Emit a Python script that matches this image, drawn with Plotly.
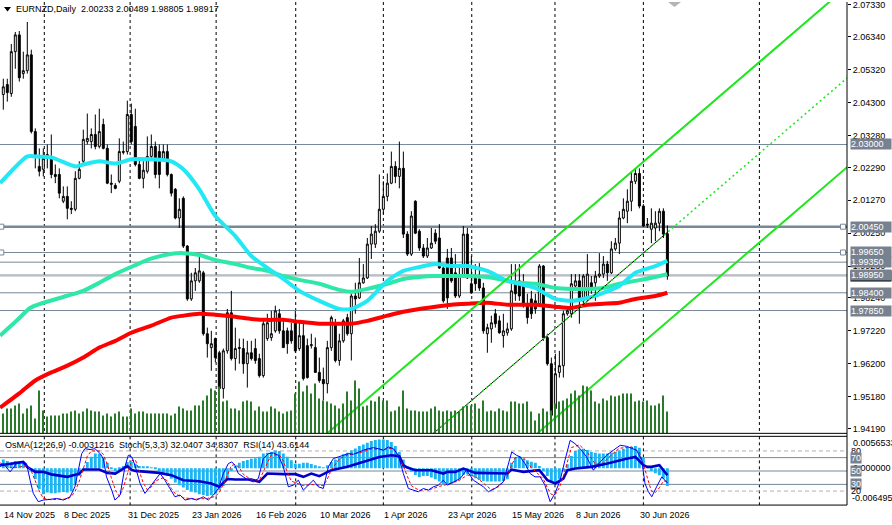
import plotly.graph_objects as go

W, H = 892, 525

# ---------------- data ----------------
opens = [2.0455,2.0486,2.0458,2.0588,2.0640,2.0520,2.0529,2.0578,2.0340,2.0232,
         2.0223,2.0257,2.0257,2.0207,2.0207,2.0124,2.0139,2.0102,2.0099,2.0195,
         2.0248,2.0309,2.0309,2.0331,2.0294,2.0362,2.0288,2.0180,2.0173,2.0186,
         2.0278,2.0278,2.0393,2.0356,2.0238,2.0195,2.0217,2.0263,2.0294,2.0278,
         2.0254,2.0278,2.0207,2.0161,2.0072,2.0133,1.9985,1.9821,1.9877,1.9877,
         1.9902,1.9713,1.9670,1.9698,1.9654,1.9543,1.9660,1.9778,1.9636,1.9670,
         1.9667,1.9620,1.9654,1.9667,1.9636,1.9583,1.9698,1.9701,1.9722,1.9775,
         1.9722,1.9722,1.9722,1.9753,1.9667,1.9707,1.9676,1.9676,1.9670,1.9593,
         1.9571,1.9558,1.9670,1.9747,1.9630,1.9691,1.9763,1.9713,1.9830,1.9824,
         1.9871,1.9886,1.9991,1.9991,2.0031,2.0099,2.0139,2.0180,2.0232,2.0201,
         2.0226,2.0022,1.9960,2.0124,2.0031,1.9979,1.9954,1.9979,2.0025,2.0010,
         1.9917,1.9948,1.9948,1.9902,1.9830,1.9892,2.0022,1.9868,1.9886,1.9883,
         1.9855,1.9713,1.9728,1.9775,1.9753,1.9707,1.9716,1.9728,1.9871,1.9877,
         1.9861,1.9806,1.9821,1.9815,1.9806,1.9923,1.9701,1.9620,1.9481,1.9593,
         1.9614,1.9775,1.9775,1.9861,1.9877,1.9815,1.9824,1.9871,1.9871,1.9892,
         1.9898,1.9929,1.9902,1.9976,1.9994,2.0072,2.0093,2.0124,2.0186,2.0210,
         2.0109,2.0053,2.0037,2.0041,2.0056,2.0093,2.00233]
highs = [2.0504,2.0504,2.0612,2.0649,2.0652,2.0588,2.0680,2.0594,2.0350,2.0288,
         2.0288,2.0300,2.0331,2.0238,2.0226,2.0170,2.0170,2.0124,2.0217,2.0248,
         2.0346,2.0396,2.0350,2.0393,2.0411,2.0380,2.0300,2.0207,2.0180,2.0319,
         2.0309,2.0436,2.0427,2.0411,2.0257,2.0248,2.0325,2.0331,2.0309,2.0300,
         2.0300,2.0300,2.0210,2.0165,2.0133,2.0139,1.9988,1.9902,1.9917,1.9960,
         1.9908,1.9732,1.9722,1.9701,1.9660,1.9667,1.9790,1.9846,1.9732,1.9698,
         1.9698,1.9691,1.9691,1.9698,1.9651,1.9759,1.9775,1.9784,1.9800,1.9790,
         1.9753,1.9732,1.9747,1.9784,1.9747,1.9744,1.9698,1.9713,1.9701,1.9639,
         1.9608,1.9691,1.9769,1.9759,1.9713,1.9759,1.9775,1.9837,1.9871,1.9948,
         1.9929,2.0010,2.0047,2.0053,2.0207,2.0186,2.0210,2.0278,2.0248,2.0309,
         2.0278,2.0031,2.0093,2.0127,2.0037,1.9991,2.0010,2.0041,2.0037,2.0053,
         1.9929,1.9976,1.9979,1.9960,1.9917,2.0047,2.0041,1.9954,1.9929,1.9932,
         1.9871,1.9744,1.9769,1.9790,1.9769,1.9775,1.9747,1.9929,1.9929,1.9929,
         1.9898,1.9837,1.9846,1.9837,1.9929,1.9926,1.9713,1.9639,1.9651,1.9660,
         1.9784,1.9794,1.9898,1.9898,1.9898,1.9898,1.9960,1.9892,1.9908,1.9963,
         1.9954,1.9939,2.0000,2.0010,2.0093,2.0133,2.0161,2.0217,2.0226,2.0226,
         2.0115,2.0072,2.0102,2.0093,2.0102,2.0102,2.00489]
lows = [2.0408,2.0433,2.0448,2.0535,2.0495,2.0504,2.0520,2.0334,2.0226,2.0201,
        2.0201,2.0226,2.0195,2.0180,2.0133,2.0118,2.0068,2.0084,2.0093,2.0192,
        2.0238,2.0300,2.0288,2.0285,2.0288,2.0285,2.0177,2.0149,2.0161,2.0180,
        2.0269,2.0269,2.0300,2.0232,2.0192,2.0164,2.0210,2.0257,2.0195,2.0164,
        2.0248,2.0201,2.0139,2.0068,2.0041,1.9979,1.9815,1.9815,1.9846,1.9871,
        1.9707,1.9639,1.9598,1.9624,1.9528,1.9512,1.9651,1.9630,1.9599,1.9620,
        1.9589,1.9546,1.9630,1.9620,1.9577,1.9577,1.9691,1.9691,1.9716,1.9713,
        1.9670,1.9651,1.9682,1.9654,1.9660,1.9568,1.9574,1.9667,1.9593,1.9561,
        1.9506,1.9528,1.9660,1.9624,1.9614,1.9685,1.9707,1.9630,1.9775,1.9821,
        1.9868,1.9883,1.9945,1.9979,2.0025,2.0084,2.0124,2.0177,2.0180,2.0164,
        2.0010,1.9954,1.9954,2.0022,1.9970,1.9948,1.9948,1.9976,1.9991,1.9914,
        1.9809,1.9790,1.9871,1.9824,1.9824,1.9886,1.9883,1.9837,1.9846,1.9846,
        1.9713,1.9654,1.9685,1.9732,1.9713,1.9670,1.9707,1.9722,1.9815,1.9815,
        1.9794,1.9744,1.9759,1.9775,1.9800,1.9691,1.9614,1.9454,1.9475,1.9577,
        1.9577,1.9769,1.9763,1.9855,1.9744,1.9806,1.9815,1.9837,1.9815,1.9886,
        1.9886,1.9877,1.9898,1.9970,1.9960,2.0068,2.0056,2.0093,2.0177,2.0102,
        2.0044,2.0041,1.9994,2.0000,2.0031,2.0010,1.98805]
closes = [2.0479,2.0461,2.0588,2.0640,2.0507,2.0529,2.0578,2.0340,2.0269,2.0217,
          2.0257,2.0269,2.0207,2.0201,2.0149,2.0139,2.0102,2.0099,2.0195,2.0223,
          2.0316,2.0319,2.0331,2.0294,2.0340,2.0288,2.0180,2.0177,2.0164,2.0278,
          2.0276,2.0393,2.0309,2.0238,2.0195,2.0220,2.0263,2.0294,2.0207,2.0207,
          2.0278,2.0207,2.0149,2.0072,2.0099,1.9985,1.9821,1.9877,1.9902,1.9908,
          1.9713,1.9682,1.9682,1.9639,1.9543,1.9660,1.9778,1.9636,1.9667,1.9668,
          1.9620,1.9654,1.9636,1.9630,1.9583,1.9744,1.9747,1.9713,1.9784,1.9722,
          1.9670,1.9682,1.9691,1.9660,1.9707,1.9574,1.9577,1.9679,1.9593,1.9568,
          1.9558,1.9670,1.9763,1.9630,1.9691,1.9753,1.9713,1.9830,1.9821,1.9871,
          1.9886,1.9991,2.0022,2.0031,2.0099,2.0139,2.0180,2.0232,2.0201,2.0226,
          2.0022,1.9960,2.0078,2.0025,1.9979,1.9954,1.9979,1.9994,2.0000,1.9917,
          1.9815,1.9824,1.9877,1.9830,1.9892,2.0022,1.9886,1.9840,1.9868,1.9855,
          1.9722,1.9732,1.9747,1.9744,1.9716,1.9722,1.9728,1.9846,1.9837,1.9830,
          1.9806,1.9763,1.9775,1.9790,1.9923,1.9701,1.9620,1.9460,1.9589,1.9614,
          1.9775,1.9784,1.9868,1.9877,1.9815,1.9892,1.9898,1.9855,1.9892,1.9898,
          1.9929,1.9902,1.9976,1.9994,2.0072,2.0099,2.0124,2.0186,2.0210,2.0109,
          2.0047,2.0050,2.0056,2.0056,2.0093,2.0022,1.98917]
volumes = [20,25,25,28,30,20,25,28,15,43,23,17,18,18,18,20,20,22,23,20,22,25,23,22,22,
           18,20,17,20,22,17,17,25,20,22,22,20,20,20,20,20,20,
           18,20,27,25,23,23,28,28,33,38,45,43,47,32,33,25,25,23,32,33,32,23,27,22,22,
           27,25,22,20,22,23,40,52,42,48,40,50,35,33,32,30,28,
           25,30,42,33,53,45,27,28,33,32,37,33,33,22,23,27,43,25,23,23,22,22,22,25,27,
           23,22,23,22,23,22,27,28,28,30,25,33,22,23,22,25,23,
           22,32,32,30,30,32,22,13,20,25,22,23,30,32,33,35,40,43,38,48,47,43,32,30,35,
           33,38,37,38,40,40,40,32,33,32,33,28,28,30,38,22]
osma = [0.00158,0.00129,0.00100,0.00129,0.00129,0.00100,0.00041,-0.00047,-0.00194,-0.00370,
        -0.00458,-0.00429,-0.00440,-0.00440,-0.00429,-0.00417,-0.00429,-0.00399,-0.00282,-0.00135,
        -0.00047,0.00112,0.00205,0.00264,0.00258,0.00188,0.00100,-0.00006,-0.00047,-0.00029,
        0.00041,0.00112,0.00117,0.00082,0.00041,0.00029,0.00029,0.00006,-0.00012,-0.00047,
        -0.00076,-0.00135,-0.00182,-0.00252,-0.00299,-0.00340,-0.00382,-0.00411,-0.00429,-0.00458,
        -0.00470,-0.00487,-0.00475,-0.00458,-0.00382,-0.00311,-0.00194,-0.00047,0.00041,0.00100,
        0.00129,0.00147,0.00170,0.00176,0.00205,0.00264,0.00276,0.00294,0.00317,0.00305,
        0.00264,0.00205,0.00141,0.00082,0.00082,0.00100,0.00100,0.00076,0.00053,0.00018,
        0.00003,0.00053,0.00112,0.00158,0.00205,0.00247,0.00276,0.00317,0.00352,0.00393,
        0.00423,0.00452,0.00481,0.00499,0.00511,0.00511,0.00499,0.00464,0.00393,0.00288,
        0.00158,0.00029,-0.00059,-0.00117,-0.00153,-0.00135,-0.00135,-0.00164,-0.00194,-0.00235,
        -0.00282,-0.00294,-0.00276,-0.00247,-0.00188,-0.00117,-0.00106,-0.00135,-0.00176,-0.00205,
        -0.00223,-0.00235,-0.00235,-0.00235,-0.00235,-0.00223,-0.00194,0.00100,0.00188,0.00217,
        0.00170,0.00141,0.00117,0.00100,0.00041,-0.00047,-0.00135,-0.00223,-0.00252,-0.00194,
        -0.00047,0.00070,0.00217,0.00305,0.00335,0.00346,0.00323,0.00288,0.00276,0.00264,
        0.00264,0.00264,0.00276,0.00294,0.00317,0.00346,0.00364,0.00382,0.00393,0.00364,
        0.00188,0.00041,-0.00047,-0.00088,-0.00123,-0.00182,-0.0031216]

# moving averages, read at sample bars
ma_fast = [(-0.8,2.0180),(6,2.0263),(8,2.0263),(12,2.0260),(18,2.0232),(20,2.0238),(24,2.0248),
           (28,2.0241),(32,2.0254),(37,2.0254),(42,2.0248),(45,2.0223),(49,2.0161),(53,2.0078),
           (58,2.0016),(62,1.9954),(66,1.9917),(70,1.9883),(74,1.9846),(79,1.9815),(84,1.9790),
           (87,1.9790),(91,1.9815),(96,1.9877),(100,1.9908),(104,1.9920),(108,1.9929),(112,1.9923),
           (116,1.9923),(121,1.9908),(126,1.9877),(129,1.9868),(133,1.9855),(138,1.9821),
           (142,1.9815),(146,1.9824),(150,1.9840),(154,1.9861),(158,1.9902),(163,1.9923),(166,1.9939)]
ma_mid = [(-0.8,1.9707),(3.3,1.9753),(6.7,1.9793),(10,1.9809),(15.8,1.9830),(20,1.9846),
          (24,1.9871),(28,1.9898),(32.5,1.9923),(36.7,1.9945),(41.7,1.9960),(45,1.9963),
          (49,1.9957),(53,1.9942),(58,1.9929),(62,1.9917),(66,1.9908),(70,1.9892),(74,1.9880),
          (79,1.9868),(84,1.9849),(87,1.9843),(91,1.9852),(96,1.9868),(100,1.9883),(104,1.9889),
          (108,1.9892),(112,1.9892),(116,1.9892),(121,1.9889),(126,1.9877),(129,1.9871),
          (133,1.9868),(138,1.9855),(142,1.9852),(146,1.9852),(150,1.9855),(154,1.9868),
          (158,1.9877),(163,1.9889),(166,1.9898)]
ma_slow = [(-0.8,1.9484),(4,1.9528),(8,1.9568),(12,1.9593),(16,1.9614),(20,1.9639),(24,1.9670),
           (28,1.9691),(32,1.9716),(37,1.9738),(42,1.9763),(45,1.9769),(49,1.9775),(53,1.9772),
           (58,1.9766),(62,1.9759),(66,1.9756),(70,1.9756),(74,1.9750),(79,1.9744),(84,1.9744),
           (87,1.9744),(91,1.9753),(96,1.9769),(100,1.9781),(104,1.9790),(108,1.9797),(112,1.9803),
           (116,1.9806),(121,1.9809),(126,1.9803),(129,1.9803),(133,1.9803),(138,1.9797),
           (142,1.9793),(146,1.9803),(150,1.9806),(154,1.9809),(158,1.9821),(163,1.9830),(166,1.9840)]

# indicator lines, read at sample bars
stoch_main = [(-0.8,56.2),(0,61.1),(1.7,48.7),(3.3,61.1),(5,63.6),(5.8,61.1),(6.7,36.3),(7.5,16.5),
    (8.75,4.1),(10,6.6),(11.7,7.6),(13.3,9.0),(15,6.6),(16.7,11.5),(17.9,26.4),(18.75,51.2),
    (19.6,76.0),(20.4,83.4),(21.7,82.0),(22.9,83.4),(24.2,76.0),(25,68.6),(25.8,41.3),(27.1,21.4),
    (27.9,6.6),(29.2,14.0),(30.4,56.2),(31.25,73.5),(32.1,71.0),(32.9,58.6),(34.2,31.4),(35.4,16.5),
    (36.7,26.4),(37.9,36.3),(39.2,46.2),(40.4,36.3),(41.7,23.9),(42.9,11.5),(44.2,14.0),(45.4,6.6),
    (47.1,9.0),(48.3,6.6),(50,11.5),(51.25,6.6),(52.5,14.0),(53.75,23.9),(55,46.2),(56.25,61.1),
    (57.1,63.6),(57.9,58.6),(58.75,46.2),(60,41.3),(61.25,36.3),(62.5,33.8),(63.75,38.8),(65,68.6),
    (66.25,76.0),(67.5,77.0),(68.75,73.5),(70,56.2),(71.25,26.4),(72.5,28.9),(73.75,36.3),(75,21.4),
    (76.25,28.9),(77.5,36.3),(78.75,26.4),(80,23.9),(81.25,56.2),(82.5,68.6),(83.75,71.0),(85,73.5),
    (86.25,76.0),(87.5,75.0),(88.75,78.5),(90,81.0),(91.25,83.4),(92.5,84.9),(93.75,83.4),(95,81.0),
    (96.25,85.9),(97.5,83.4),(98.75,73.5),(100,46.2),(101.25,23.9),(102.5,21.4),(103.75,19.0),
    (105,23.9),(106.25,21.4),(107.5,26.4),(108.75,28.9),(110,36.3),(111,28.9),(114.2,38.8),
    (115.8,51.2),(117.5,36.3),(120,26.4),(121.25,19.0),(122.9,23.9),(125,33.8),(125.8,51.2),
    (127.1,78.5),(128.3,73.5),(129.2,71.0),(130.4,61.1),(131.7,46.2),(132.9,41.3),(134.2,41.3),
    (135.4,28.9),(136.7,4.1),(137.9,16.5),(139.2,36.3),(140.4,66.1),(141.7,95.8),(142.9,90.9),
    (144.2,83.4),(145.8,71.0),(147.5,51.2),(149.2,63.6),(150.8,73.5),(152.5,81.0),(154.2,88.4),
    (155.8,86.9),(157.1,83.4),(158.3,81.0),(159.6,66.1),(160.4,31.4),(161.25,19.0),(162.1,11.5),
    (163.3,26.4),(164.6,41.3),(166,32.04)]
stoch_signal = [(-0.8,62),(0,60),(2,55),(4,56),(6,58),(7,50),(8,35),(9,20),(10,9),(12,7),(14,8),
    (16,8),(17,12),(18,20),(19,35),(20,55),(21,72),(22,80),(24,80),(25,75),(26,60),(27,40),(28,22),
    (29,12),(30,25),(31,45),(32,65),(33,67),(34,50),(35,32),(36,22),(37,26),(38,35),(40,40),(41,35),
    (42,24),(43,16),(45,10),(48,8),(51,9),(53,12),(54,18),(55,30),(56,45),(57,58),(58,60),(59,55),
    (60,45),(62,37),(64,36),(65,50),(66,62),(67,74),(69,74),(70,65),(71,48),(72,35),(74,30),(75,28),
    (77,30),(79,28),(80,28),(81,38),(82,52),(84,68),(86,74),(89,77),(92,83),(95,82),(97,84),(98,80),
    (99,70),(100,58),(101,42),(102,28),(104,21),(107,23),(109,27),(111,30),(114,36),(116,44),
    (118,42),(120,32),(122,22),(124,27),(126,42),(127,58),(128,70),(130,70),(132,55),(134,44),
    (135,38),(136,25),(137,15),(138,15),(139,25),(140,42),(141,65),(142,85),(144,89),(146,78),
    (148,60),(150,62),(152,74),(154,84),(157,86),(159,78),(160,60),(161,38),(162,20),(163,18),
    (164,25),(165,35),(166,34.83)]
rsi = [(-0.8,58.6),(2,61.1),(4,63.6),(5,63.6),(6,56.0),(7,52.0),(8,48.7),(10,48.7),(12,45.0),
    (16,41.3),(19,46.0),(20,52.2),(24,52.2),(26,47.2),(28,46.2),(31,57.2),(32,52.0),(33,50.2),
    (37,48.7),(39,47.2),(42,43.8),(45,36.3),(49,34.8),(52,31.4),(54,26.5),(56,38.0),(58,37.3),
    (62,37.3),(64,33.8),(66,46.2),(70,45.3),(73,45.3),(75,41.3),(77,46.2),(79,42.3),(81,48.7),
    (82,51.2),(86,56.2),(90,63.6),(94,71.0),(97,73.5),(99,72.0),(100,58.6),(101,55.2),(103,51.2),
    (107,51.2),(110,46.2),(111,48.7),(113,48.7),(115,53.7),(118,47.2),(122,46.2),(126,46.2),
    (127,52.2),(130,48.7),(134,51.2),(136,36.3),(138,31.4),(140,38.8),(141,51.2),(143,53.7),
    (147,56.2),(151,61.1),(156,68.6),(158,71.0),(160,58.6),(161,56.2),(162,56.2),(164,58.6),
    (166,43.6)]

# price axis ticks
price_ticks = [2.07330,2.06340,2.05320,2.04300,2.03280,2.02290,2.01270,2.00250,1.99230,
               1.98240,1.97220,1.96200,1.95180,1.94190]
# horizontal levels drawn on the chart
levels = [2.03000,2.00450,1.99650,1.99350,1.98950,1.98400,1.97850]
bid_price = 1.98917
# trend channel (bar, price) end points
channel_upper = [(80, 1.93937),(211, 2.07902)]
channel_lower = [(133.4, 1.94031),(211, 2.02303)]
channel_mid_solid = [(107.4, 1.94028),(166.2, 2.00296)]
channel_mid_dotted = [(107.4, 1.94028),(211, 2.05071)]
# month grid lines (bar positions)
grid_bars = [10.25,31.7,53.2,73.1,95,117.1,137.9,160,189]
date_labels = ["14 Nov 2025","8 Dec 2025","31 Dec 2025","23 Jan 2026","16 Feb 2026",
               "10 Mar 2026","1 Apr 2026","23 Apr 2026","15 May 2026","8 Jun 2026","30 Jun 2026"]
date_bars = [0,16,32,48,64,80,96,112,128,144,160]
osc_levels = [80,70,50,30,20]

# ---------------- layout helpers ----------------
X_RIGHT = 847
MAIN_BOTTOM = 433
IND_TOP, IND_BOTTOM = 436, 505
def px(xp): return xp / W
def py(yp): return 1 - yp / H

FONT = "Liberation Sans, Arial, sans-serif"
bars = list(range(len(closes)))

fig = go.Figure()

fig.add_trace(go.Bar(x=bars, y=volumes, width=0.22, marker=dict(color="#2b7a2b", line_width=0),
                     yaxis="y2", hoverinfo="skip", showlegend=False))
fig.add_trace(go.Candlestick(x=bars, open=opens, high=highs, low=lows, close=closes,
        increasing=dict(line=dict(color="black", width=1), fillcolor="white"),
        decreasing=dict(line=dict(color="black", width=1), fillcolor="black"),
        whiskerwidth=0, showlegend=False))

for pts, col in [(ma_slow, "#ff0000"), (ma_mid, "#2de8a6"), (ma_fast, "#22e8f4")]:
    fig.add_trace(go.Scatter(x=[p[0] for p in pts], y=[p[1] for p in pts], mode="lines",
                             line=dict(color=col, width=4, shape="spline", smoothing=0.6),
                             showlegend=False, hoverinfo="skip"))

for pts, col, wid, dash in [(channel_upper, "#1ee61e", 2, "solid"),
                            (channel_lower, "#1ee61e", 2, "solid"),
                            (channel_mid_solid, "#000000", 1, "solid"),
                            (channel_mid_dotted, "#1ee61e", 1.5, "2px,3px")]:
    fig.add_trace(go.Scatter(x=[p[0] for p in pts], y=[p[1] for p in pts], mode="lines",
                             line=dict(color=col, width=wid, dash=dash),
                             showlegend=False, hoverinfo="skip"))

# line anchor squares
fig.add_trace(go.Scatter(x=[-0.5, -0.5, 209.9, 209.9], y=[levels[1], levels[2], levels[1], levels[2]],
                         mode="markers", cliponaxis=False,
                         marker=dict(symbol="square", size=5, color="white",
                                     line=dict(color="#778899", width=1)),
                         showlegend=False, hoverinfo="skip"))

# indicator window
fig.add_trace(go.Bar(x=bars, y=osma, width=0.72, marker=dict(color="#1cb4f2", line_width=0),
                     yaxis="y3", showlegend=False, hoverinfo="skip"))
fig.add_trace(go.Scatter(x=[p[0] for p in rsi], y=[p[1] for p in rsi], mode="lines", yaxis="y4",
                         line=dict(color="#0000cd", width=2.6), showlegend=False, hoverinfo="skip"))
fig.add_trace(go.Scatter(x=[p[0] for p in stoch_signal], y=[p[1] for p in stoch_signal], mode="lines",
                         yaxis="y4", line=dict(color="#ff0000", width=1, dash="3px,2px"),
                         showlegend=False, hoverinfo="skip"))
fig.add_trace(go.Scatter(x=[p[0] for p in stoch_main], y=[p[1] for p in stoch_main], mode="lines",
                         yaxis="y4", line=dict(color="#0000ff", width=1),
                         showlegend=False, hoverinfo="skip"))

shapes = []
# month grid
for b in grid_bars:
    for y0, y1 in [(0, MAIN_BOTTOM), (IND_TOP, IND_BOTTOM)]:
        shapes.append(dict(type="line", xref="x", yref="paper", x0=b, x1=b, y0=py(y0), y1=py(y1),
                           line=dict(color="black", width=1, dash="3px,3px"), layer="below"))
# horizontal levels
for lv in levels:
    shapes.append(dict(type="line", xref="paper", yref="y", x0=0, x1=px(X_RIGHT), y0=lv, y1=lv,
                       line=dict(color="#778899", width=2.5 if lv == levels[1] else 1), layer="below"))
shapes.append(dict(type="line", xref="paper", yref="y", x0=0, x1=px(X_RIGHT), y0=bid_price, y1=bid_price,
                   line=dict(color="#c0c0c0", width=1), layer="below"))
# oscillator levels
for lv in osc_levels:
    dashed = lv in (80, 20)
    shapes.append(dict(type="line", xref="paper", yref="y4", x0=0, x1=px(X_RIGHT), y0=lv, y1=lv,
                       line=dict(color="#b0b0b0" if dashed else "#778899", width=1,
                                 dash="4px,3px" if dashed else "solid"), layer="below"))
# frame
shapes += [
    dict(type="line", xref="paper", yref="paper", x0=px(X_RIGHT), x1=px(X_RIGHT), y0=py(0), y1=py(IND_BOTTOM),
         line=dict(color="black", width=1)),
    dict(type="line", xref="paper", yref="paper", x0=0, x1=px(X_RIGHT), y0=py(MAIN_BOTTOM), y1=py(MAIN_BOTTOM),
         line=dict(color="black", width=1)),
    dict(type="line", xref="paper", yref="paper", x0=0, x1=px(X_RIGHT), y0=py(IND_TOP), y1=py(IND_TOP),
         line=dict(color="black", width=1)),
    dict(type="line", xref="paper", yref="paper", x0=0, x1=px(X_RIGHT), y0=py(IND_BOTTOM), y1=py(IND_BOTTOM),
         line=dict(color="black", width=1)),
    # header triangle
    dict(type="path", xref="paper", yref="paper",
         path=f"M {px(4)} {py(5)} L {px(11)} {py(5)} L {px(7.5)} {py(9.5)} Z",
         fillcolor="black", line=dict(width=0)),
    # chart shift marker
    dict(type="path", xref="paper", yref="paper",
         path=f"M {px(668)} {py(0)} L {px(681)} {py(0)} L {px(674.5)} {py(5)} Z",
         fillcolor="#b4b4b4", line=dict(width=0)),
]

ann = []
ann.append(dict(x=px(14), y=py(7), xref="paper", yref="paper", xanchor="left", yanchor="middle",
                text="EURNZD,Daily  2.00233 2.00489 1.98805 1.98917", showarrow=False,
                font=dict(family=FONT, size=9, color="black")))
ann.append(dict(x=px(3), y=py(445), xref="paper", yref="paper", xanchor="left", yanchor="middle",
                text="OsMA(12,26,9) -0.0031216  Stoch(5,3,3) 32.0407 34.8307  RSI(14) 43.6144",
                showarrow=False, font=dict(family=FONT, size=9, color="black")))
for i, (lab, b) in enumerate(zip(date_labels, date_bars)):
    ann.append(dict(x=b, y=py(515), xref="x", yref="paper", xanchor="left", yanchor="middle",
                    xshift=-1 if i == 0 else -5, text=lab, showarrow=False,
                    font=dict(family=FONT, size=9, color="black")))
# bid label (mostly hidden) then level boxes
ann.append(dict(x=px(850), y=bid_price, xref="paper", yref="y", xanchor="left", yanchor="middle",
                text="1.98917", showarrow=False, bgcolor="black", width=40, height=10, align="left",
                borderpad=0, font=dict(family=FONT, size=9, color="white")))
for lv in levels:
    ann.append(dict(x=px(850), y=lv, xref="paper", yref="y", xanchor="left", yanchor="middle",
                    text=f"{lv:.5f}", showarrow=False, bgcolor="#77818f", width=40, height=10,
                    align="left", borderpad=0, font=dict(family=FONT, size=9, color="white")))
# indicator scale labels
ann.append(dict(x=px(851), y=py(443), xref="paper", yref="paper", xanchor="left", yanchor="middle",
                text="0.0056533", showarrow=False, font=dict(family=FONT, size=9, color="black")))
ann.append(dict(x=px(850), y=py(498), xref="paper", yref="paper", xanchor="left", yanchor="middle",
                text="-0.006495", showarrow=False, font=dict(family=FONT, size=9, color="black")))
ann.append(dict(x=px(851), y=0, xref="paper", yref="y3", xanchor="left", yanchor="middle",
                text="0.000000", showarrow=False, font=dict(family=FONT, size=9, color="black")))
for lv in osc_levels:
    boxed = lv in (70, 50, 30)
    ann.append(dict(x=px(850), y=lv, xref="paper", yref="y4", xanchor="left", yanchor="middle",
                    text=str(lv), showarrow=False, bgcolor="#77818f" if boxed else None,
                    borderpad=0, font=dict(family=FONT, size=9, color="white" if boxed else "black")))

fig.update_layout(
    width=W, height=H, margin=dict(l=0, r=0, t=0, b=0),
    paper_bgcolor="white", plot_bgcolor="white", barmode="overlay", showlegend=False,
    xaxis=dict(domain=[0, px(X_RIGHT)], range=[-0.825, 210.9], visible=False,
               rangeslider=dict(visible=False), fixedrange=True),
    yaxis=dict(domain=[py(MAIN_BOTTOM), 1], range=[1.9404, 2.0742], side="right",
               tickvals=price_ticks, ticktext=[f"{t:.5f}" for t in price_ticks],
               ticks="outside", ticklen=3, tickcolor="black", showgrid=False, zeroline=False,
               showline=False, ticklabeloverflow="allow",
               tickfont=dict(family=FONT, size=9, color="black")),
    yaxis2=dict(overlaying="y", range=[0, MAIN_BOTTOM], visible=False),
    yaxis3=dict(domain=[py(IND_BOTTOM), py(IND_TOP)], range=[-0.006495, 0.0056533], visible=False,
                anchor="x"),
    yaxis4=dict(overlaying="y3", range=[-0.9, 101.8], visible=False),
    shapes=shapes, annotations=ann,
)

fig.write_html("out.html")
